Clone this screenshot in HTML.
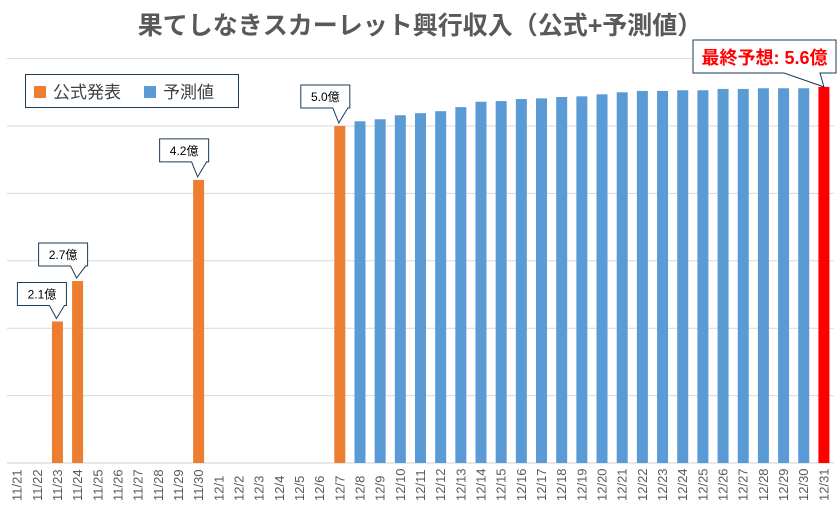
<!DOCTYPE html>
<html><head><meta charset="utf-8"><style>
body{margin:0;background:#fff;width:839px;height:507px;overflow:hidden;font-family:"Liberation Sans","Noto Sans CJK JP",sans-serif}
</style></head><body>
<svg id="c" width="839" height="507" xmlns="http://www.w3.org/2000/svg"></svg>
<script>
const categories=["11/21","11/22","11/23","11/24","11/25","11/26","11/27","11/28","11/29","11/30","12/1","12/2","12/3","12/4","12/5","12/6","12/7","12/8","12/9","12/10","12/11","12/12","12/13","12/14","12/15","12/16","12/17","12/18","12/19","12/20","12/21","12/22","12/23","12/24","12/25","12/26","12/27","12/28","12/29","12/30","12/31"];
const officialValues=[null,null,2.1,2.7,null,null,null,null,null,4.2,null,null,null,null,null,null,5.0];
const forecastValues=[5.07,5.10,5.16,5.19,5.22,5.28,5.36,5.37,5.40,5.41,5.43,5.44,5.47,5.50,5.52,5.52,5.53,5.53,5.55,5.55,5.56,5.56,5.56];
const finalValue=5.58;
const yTicks=[0,1,2,3,4,5,6];
const calloutLabels=["2.1億","2.7億","4.2億","5.0億"];

const svg=document.getElementById('c');const NS="http://www.w3.org/2000/svg";
const X0=7,X1=834,Y0=463,YU=67.4;
const bw=(X1-X0)/categories.length;
const xc=i=>X0+bw*(i+0.5);
const y=v=>Y0-v*YU;
function mk(t,a,p){const e=document.createElementNS(NS,t);for(const k in a)e.setAttribute(k,a[k]);(p||svg).appendChild(e);return e;}

let t=mk('text',{x:420,y:34,'text-anchor':'middle','font-size':25,'font-weight':'bold',fill:'#595959'});


t.textContent='果てしなきスカーレット興行収入（公式+予測値）';

yTicks.forEach(v=>{if(v===0)return;const l=mk('line',{x1:X0,x2:X1,y1:y(v),y2:y(v),stroke:'#d9d9d9','stroke-width':1});

});
const ax=mk('line',{x1:X0,x2:X1,y1:Y0,y2:Y0,stroke:'#d0d0d0','stroke-width':1});



const barW=11;
officialValues.forEach((v,i)=>{if(v==null)return;const r=mk('rect',{x:xc(i)-barW/2,y:y(v),width:barW,height:Y0-y(v),fill:'#ed7d31'});

});
forecastValues.forEach((v,j)=>{const i=17+j;const r=mk('rect',{x:xc(i)-barW/2,y:y(v),width:barW,height:Y0-y(v),fill:'#5b9bd5'});

});
{const i=40;const r=mk('rect',{x:xc(i)-barW/2,y:y(finalValue),width:barW,height:Y0-y(finalValue),fill:'#ff0000'});

}

categories.forEach((c,i)=>{const tx=mk('text',{transform:`translate(${xc(i)+4.5},501) rotate(-90)`,'font-size':13,fill:'#595959'});


tx.textContent=c;});

const calloutIdx=[2,3,9,16];
const calloutOffsets=[[-40,-39],[-39,-38],[-39,-41],[-39,-41]];
calloutIdx.forEach((i,k)=>{const v=officialValues[i];const bx=xc(i)+calloutOffsets[k][0],by=y(v)+calloutOffsets[k][1];const w=49,h=23;
const tipx=xc(i)-1,tipy=y(v)-3;
const p=mk('path',{d:`M${bx},${by}H${bx+w}V${by+h}H${bx+w-2}L${tipx},${tipy}L${bx+w-17},${by+h}H${bx}Z`,fill:'#fff',stroke:'#1f3b55','stroke-width':1});


const tx=mk('text',{x:bx+w/2,y:by+16,'text-anchor':'middle','font-size':12,fill:'#000'});


tx.textContent=calloutLabels[k];});
{const bx=693,by=40,w=143,h=33,tipx=xc(40),tipy=y(finalValue);
const p=mk('path',{d:`M${bx},${by}H${bx+w}V${by+h}H${bx+w-16}L${tipx},${tipy}L${bx+w-52},${by+h}H${bx}Z`,fill:'#fff',stroke:'#1f3b55','stroke-width':1});


const tx=mk('text',{x:bx+w/2,y:by+24,'text-anchor':'middle','font-size':18,'font-weight':'bold',fill:'#ff0000'});


tx.textContent='最終予想: 5.6億';}

const lg=mk('g',{});


mk('rect',{x:25.5,y:74.5,width:213,height:33,fill:'#fff',stroke:'#1f3b55','stroke-width':1},lg);
[[34,'#ed7d31','公式発表'],[144,'#5b9bd5','予測値']].forEach(([x,col,txt])=>{const g=mk('g',{},lg);


mk('rect',{x:x,y:86,width:12,height:12,fill:col},g);
const tx=mk('text',{x:x+19,y:98,'font-size':17,fill:'#404040'},g);tx.textContent=txt;});
</script>
</body></html>
